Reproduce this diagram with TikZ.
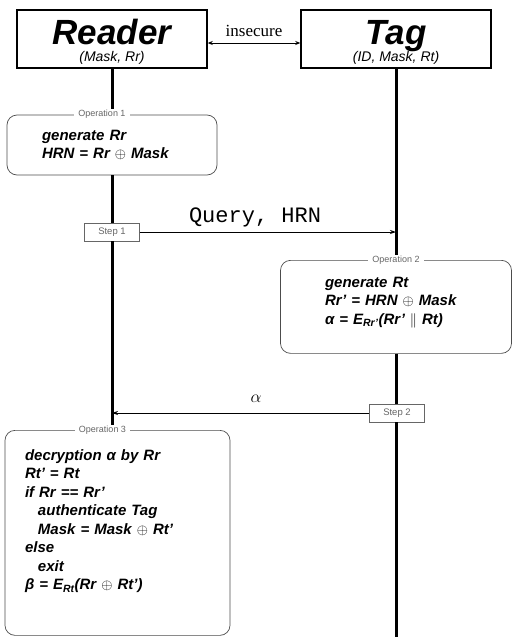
\documentclass[tikz,border=0pt]{standalone}
\usepackage{fontspec}
\setmainfont{Liberation Serif}
\setsansfont{Liberation Sans}
\setmonofont{Liberation Mono}
\usetikzlibrary{arrows.meta}

\tikzset{
  party/.style={draw, line width=1.5pt, minimum width=190pt, inner sep=0pt,
    text height=34pt, text depth=24pt,
    font=\sffamily\bfseries\itshape\fontsize{35}{36}\selectfont},
  partysub/.style={inner sep=1pt, font=\sffamily\itshape\fontsize{14}{15}\selectfont},
  opbox/.style={draw=black!70, rounded corners=10pt, line width=0.7pt, align=left,
    font=\sffamily\bfseries\itshape\fontsize{15}{18.5}\selectfont},
  oplabel/.style={fill=white, inner xsep=4pt, inner ysep=1pt, text=black!60,
    font=\sffamily\fontsize{9}{10}\selectfont},
  stepbox/.style={draw=black!60, fill=white, minimum width=55pt, minimum height=18pt,
    inner sep=1pt, text=black!60, font=\sffamily\fontsize{9.5}{10}\selectfont},
  life/.style={line width=3pt},
  msg/.style={line width=0.8pt, -{Stealth[length=6pt,width=4pt]}},
}

\begin{document}
\begin{tikzpicture}[x=1pt,y=-1pt]
\useasboundingbox (0,0) rectangle (515,637);
% les deux parties
\node[party] (reader) at (112,39) {Reader};
\node[partysub, above=3pt] (readersub) at (reader.south) {(Mask, Rr)};
\node[party] (tag) at (396,39) {Tag};
\node[partysub, above=3pt] (tagsub) at (tag.south) {(ID, Mask, Rt)};
\draw[line width=0.8pt, {Stealth[length=5pt,width=4pt]}-{Stealth[length=5pt,width=4pt]}]
  ([yshift=-4pt]reader.east) -- ([yshift=-4pt]tag.west)
  node[midway, above=3pt, font=\fontsize{17}{18}\selectfont] (insec) {insecure};

% opérations
\node[opbox, minimum width=210pt, minimum height=60pt, text width=140pt, inner xsep=35pt]
  (op1) at (112,145) {generate Rr\\HRN = Rr $\oplus$ Mask};
\node[opbox, minimum width=231pt, text width=142pt, inner xsep=44.5pt, inner ysep=10pt,
  text height=17pt, text depth=56pt, anchor=north] (op2) at (396,260)
  {generate Rt\\Rr' = HRN $\oplus$ Mask\\α = E\textsubscript{Rr'}(Rr' $\|$ Rt)};
\node[opbox, minimum width=225pt, text width=185pt, inner xsep=20pt, inner ysep=10pt,
  text height=20pt, text depth=165pt, anchor=north] (op3) at (117.5,430)
  {decryption α by Rr\\Rt' = Rt\\if Rr == Rr'\\
  \hspace*{13pt}authenticate Tag\\\hspace*{13pt}Mask = Mask $\oplus$ Rt'\\else\\
  \hspace*{13pt}exit\\β = E\textsubscript{Rt}(Rr $\oplus$ Rt')};

% étapes
\node[stepbox] (step1) at (112,232) {Step 1};
\node[stepbox] (step2) at (397,413) {Step 2};
\coordinate (tagend) at (396,637);

% lignes de vie
\draw[life] (reader.south) -- (op1.north);
\draw[life] (op1.south) -- (step1.north);
\draw[life] (step1.south) -- (step1 |- op3.north);
\draw[life] (tag.south) -- (op2.north);
\draw[life] (op2.south) -- (op2.south |- step2.north);
\draw[life] (op2.south |- step2.south) -- (tagend);

% messages
\draw[msg] (step1.east) -- (step1 -| tag)
  node[pos=0.45, above=1pt, font=\ttfamily\fontsize{22}{22}\selectfont] (query) {Query, HRN};
\draw[msg] (step2.west) -- (step2 -| reader)
  node[pos=0.44, above=7pt, font=\fontsize{17}{17}\selectfont] (alpha) {$\alpha$};

% titres des opérations
\node[oplabel] (op1lab) at ([xshift=-10pt]op1.north) {Operation 1};
\node[oplabel] (op2lab) at (op2.north) {Operation 2};
\node[oplabel] (op3lab) at ([xshift=-15pt]op3.north) {Operation 3};
\end{tikzpicture}
\end{document}
